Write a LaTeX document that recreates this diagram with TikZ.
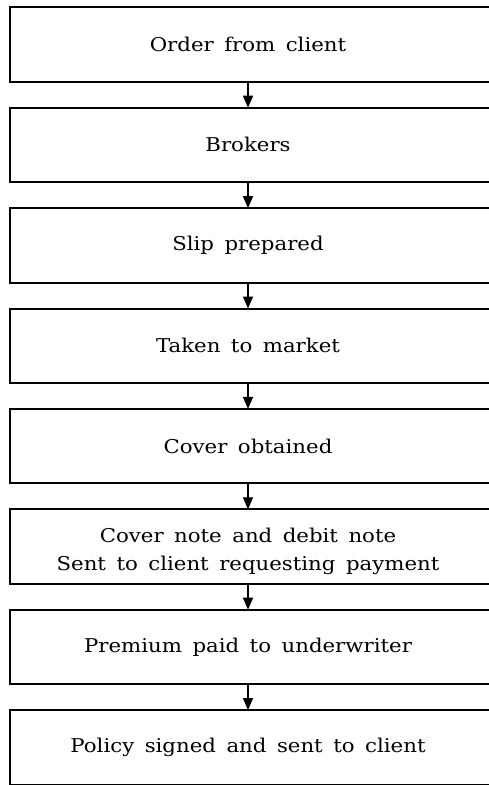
\documentclass[tikz,border=0pt]{standalone}
\usepackage{fontspec}
\setmainfont{DejaVu Serif}[FakeStretch=1.12]
\usetikzlibrary{arrows.meta,calc}

\newcommand\stagefont{\fontsize{19}{28}\selectfont\spaceskip=10.5pt plus 2pt minus 1pt\relax}

\tikzset{
  stagebox/.style={minimum width=476pt, minimum height=74pt, inner sep=0pt,
                   align=center, font=\stagefont},
  frame/.style={line width=2pt},
  flow/.style={line width=1.3pt, -{Triangle[length=12pt,width=10pt]}}
}

% draw a box that is open on its right side (runs off the page)
\newcommand\openframe[1]{%
  \draw[frame] ($(#1.north east)+(20pt,0)$) -| (#1.south west) -- ($(#1.south east)+(20pt,0)$);}

\begin{document}
\begin{tikzpicture}[x=1pt, y=-1pt]
  \useasboundingbox (0,0) rectangle (488,785);

  \node[stagebox] (s1) at (248, 44.5)  {Order from client};
  \node[stagebox] (s2) at (248, 144.9) {Brokers};
  \node[stagebox] (s3) at (248, 245.3) {Slip prepared};
  \node[stagebox] (s4) at (248, 345.7) {Taken to market};
  \node[stagebox] (s5) at (248, 446.1) {Cover obtained};
  \node[stagebox] (s6) at (248, 546.5) {\rule{0pt}{24pt}Cover note and debit note\\Sent to client requesting payment};
  \node[stagebox] (s7) at (248, 646.9) {Premium paid to underwriter};
  \node[stagebox] (s8) at (248, 747.3) {Policy signed and sent to client};

  \foreach \n in {s1,s2,s3,s4,s5,s6,s7,s8} {\openframe{\n}}

  \draw[flow] (s1.south) -- (s2.north);
  \draw[flow] (s2.south) -- (s3.north);
  \draw[flow] (s3.south) -- (s4.north);
  \draw[flow] (s4.south) -- (s5.north);
  \draw[flow] (s5.south) -- (s6.north);
  \draw[flow] (s6.south) -- (s7.north);
  \draw[flow] (s7.south) -- (s8.north);
\end{tikzpicture}
\end{document}
